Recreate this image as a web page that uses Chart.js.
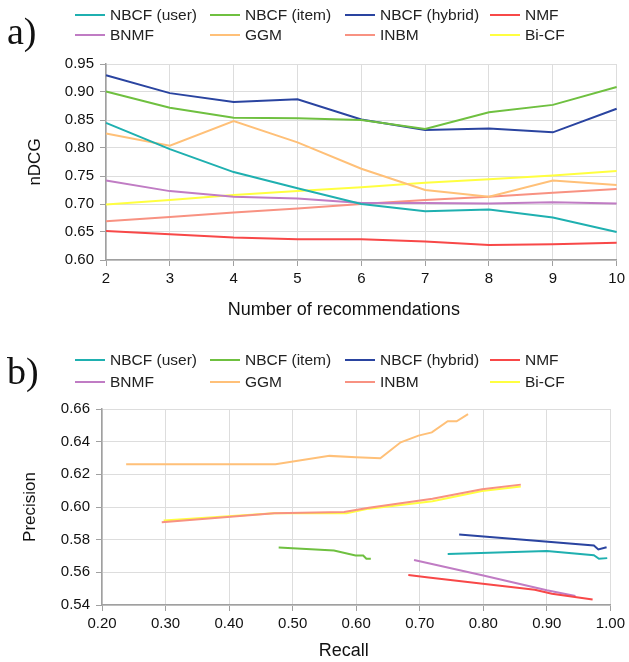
<!DOCTYPE html>
<html>
<head>
<meta charset="utf-8">
<script src="https://cdn.jsdelivr.net/npm/chart.js@4.4.1/dist/chart.umd.min.js"></script>
<style>
  body { margin: 0; background: #fff; font-family: "Liberation Sans", Arial, sans-serif; }
  #wrap { position: relative; width: 629px; height: 662px; overflow: hidden; }
  .box { position: absolute; left: 0; width: 629px; }
  .box canvas { position: absolute; left: 0; top: 0; }
  .tag { position: absolute; left: 7px; font-family: "Liberation Serif", "DejaVu Serif", serif; font-size: 38px; color: #111; }
  .leg { position: absolute; left: 0; top: 0; width: 629px; font-size: 15.5px; color: #222; }
  .item { position: absolute; white-space: nowrap; line-height: 18px; }
  .item i { display: inline-block; width: 30px; height: 2px; vertical-align: middle; margin-right: 5px; position: relative; top: -1px; }
</style>
</head>
<body>
<div id="wrap">
  <div class="box" style="top:0;height:330px">
    <canvas id="chartA" width="629" height="330"></canvas>
    <div class="tag" style="top:9px">a)</div>
    <div class="leg" id="legA"></div>
  </div>
  <div class="box" style="top:330px;height:332px">
    <canvas id="chartB" width="629" height="332"></canvas>
    <div class="tag" style="top:19px">b)</div>
    <div class="leg" id="legB"></div>
  </div>
</div>
<script>
// names and colours
const names = ["NBCF (user)", "NBCF (item)", "NBCF (hybrid)", "NMF", "BNMF", "GGM", "INBM", "Bi-CF"];
const colors = ["#1fb0b0", "#6fc040", "#2a44a0", "#f84848", "#c07cc4", "#ffc078", "#f89282", "#ffff40"];

// a) nDCG vs number of recommendations
const recs = [2, 3, 4, 5, 6, 7, 8, 9, 10];
const ndcgUser   = [0.845, 0.798, 0.757, 0.728, 0.700, 0.687, 0.690, 0.676, 0.650];
const ndcgItem   = [0.901, 0.872, 0.854, 0.853, 0.850, 0.834, 0.864, 0.877, 0.909];
const ndcgHybrid = [0.930, 0.898, 0.882, 0.887, 0.851, 0.832, 0.835, 0.828, 0.870];
const ndcgNMF    = [0.652, 0.646, 0.640, 0.637, 0.637, 0.633, 0.627, 0.628, 0.631];
const ndcgBNMF   = [0.742, 0.723, 0.713, 0.710, 0.702, 0.702, 0.701, 0.703, 0.701];
const ndcgGGM    = [0.826, 0.804, 0.848, 0.810, 0.763, 0.725, 0.713, 0.742, 0.734];
const ndcgINBM   = [0.669, 0.677, 0.685, 0.692, 0.700, 0.707, 0.713, 0.720, 0.727];
const ndcgBiCF   = [0.699, 0.707, 0.716, 0.723, 0.730, 0.738, 0.744, 0.751, 0.759];
const ndcgTicks = [0.60, 0.65, 0.70, 0.75, 0.80, 0.85, 0.90, 0.95];

// b) precision vs recall
const recUser   = [0.744, 0.900, 0.974, 0.982, 0.995];
const preUser   = [0.5713, 0.5730, 0.5705, 0.5683, 0.5687];
const recItem   = [0.478, 0.565, 0.599, 0.611, 0.616, 0.623];
const preItem   = [0.5752, 0.5733, 0.5703, 0.5703, 0.5683, 0.5683];
const recHybrid = [0.762, 0.974, 0.981, 0.994];
const preHybrid = [0.5831, 0.5764, 0.5740, 0.5754];
const recNMF    = [0.682, 0.714, 0.881, 0.908, 0.972];
const preNMF    = [0.5583, 0.5568, 0.5493, 0.5469, 0.5434];
const recBNMF   = [0.691, 0.800, 0.900, 0.945];
const preBNMF   = [0.5675, 0.5580, 0.5490, 0.5455];
const recGGM    = [0.238, 0.473, 0.558, 0.600, 0.638, 0.670, 0.698, 0.719, 0.744, 0.758, 0.776];
const preGGM    = [0.6262, 0.6262, 0.6313, 0.6305, 0.6298, 0.6396, 0.6437, 0.6457, 0.6525, 0.6525, 0.6568];
const recINBM   = [0.294, 0.471, 0.581, 0.620, 0.720, 0.798, 0.859];
const preINBM   = [0.5907, 0.5962, 0.5970, 0.5995, 0.6050, 0.6109, 0.6137];
const recBiCF   = [0.297, 0.471, 0.585, 0.620, 0.720, 0.798, 0.859];
const preBiCF   = [0.5917, 0.5962, 0.5962, 0.5990, 0.6035, 0.6098, 0.6125];
const recallTicks = [0.2, 0.3, 0.4, 0.5, 0.6, 0.7, 0.8, 0.9, 1.0];
const precTicks = [0.54, 0.56, 0.58, 0.60, 0.62, 0.64, 0.66];

const ndcgSeries = [ndcgUser, ndcgItem, ndcgHybrid, ndcgNMF, ndcgBNMF, ndcgGGM, ndcgINBM, ndcgBiCF];
const recallSeries = [recUser, recItem, recHybrid, recNMF, recBNMF, recGGM, recINBM, recBiCF];
const precSeries = [preUser, preItem, preHybrid, preNMF, preBNMF, preGGM, preINBM, preBiCF];

Chart.defaults.font.family = '"Liberation Sans", Arial, sans-serif';
Chart.defaults.color = "#111";

function makeLegend(id, top, gap) {
  const el = document.getElementById(id);
  const cols = [75, 210, 345, 490];
  names.forEach((n, i) => {
    const d = document.createElement("div");
    d.className = "item";
    d.style.left = cols[i % 4] + "px";
    d.style.top = (top + Math.floor(i / 4) * gap) + "px";
    d.innerHTML = `<i style="background:${colors[i]}"></i>${n}`;
    el.appendChild(d);
  });
}
makeLegend("legA", 6, 20);
makeLegend("legB", 21, 22);

const gridCol = "#dddddd";
const axisCol = "#a0a0a0";
const nb = "\u00a0";

function axisBase(title, size, fit) {
  return {
    grid: { color: gridCol, tickColor: axisCol, tickLength: 6 },
    border: { color: axisCol, width: 1.5 },
    title: { display: true, text: title, font: { size: size }, color: "#111", padding: { top: 4, bottom: 0 } },
    afterFit: fit,
  };
}

const dsA = ndcgSeries.map((s, i) => ({
  label: names[i],
  data: s,
  borderColor: colors[i],
  backgroundColor: colors[i],
  borderWidth: 2,
  pointRadius: 0,
  tension: 0,
}));

new Chart(document.getElementById("chartA"), {
  type: "line",
  data: { labels: recs, datasets: dsA },
  options: {
    responsive: false,
    animation: false,
    devicePixelRatio: 1,
    layout: { padding: { left: 21, right: 10, top: 64, bottom: 9 } },
    plugins: { legend: { display: false }, tooltip: { enabled: false } },
    scales: {
      x: Object.assign(axisBase("Number of recommendations" + nb.repeat(7), 18, (s) => { s.height = 61; }), {
        offset: false,
        grid: { color: gridCol, tickColor: axisCol, tickLength: 6, offset: false },
        ticks: { font: { size: 15 }, padding: 4, maxRotation: 0 },
      }),
      y: Object.assign(axisBase("nDCG", 17, (s) => { s.width = 85; }), {
        min: 0.6,
        max: 0.95,
        afterBuildTicks: (s) => { s.ticks = ndcgTicks.map((v) => ({ value: v })); },
        ticks: { font: { size: 15 }, padding: 6, callback: (v) => v.toFixed(2) },
      }),
    },
  },
});

const dsB = recallSeries.map((r, i) => ({
  label: names[i],
  data: r.map((x, j) => ({ x: x, y: precSeries[i][j] })),
  borderColor: colors[i],
  backgroundColor: colors[i],
  borderWidth: 2,
  pointRadius: 0,
  showLine: true,
  tension: 0,
}));

new Chart(document.getElementById("chartB"), {
  type: "scatter",
  data: { datasets: dsB },
  options: {
    responsive: false,
    animation: false,
    devicePixelRatio: 1,
    layout: { padding: { left: 16, right: 17, top: 79, bottom: 0 } },
    plugins: { legend: { display: false }, tooltip: { enabled: false } },
    scales: {
      x: Object.assign(axisBase("Recall" + nb.repeat(5), 18, (s) => { s.height = 57; }), {
        type: "linear",
        min: 0.2,
        max: 1.0,
        afterBuildTicks: (s) => { s.ticks = recallTicks.map((v) => ({ value: v })); },
        ticks: { font: { size: 15 }, padding: 4, maxRotation: 0, callback: (v) => v.toFixed(2) },
      }),
      y: Object.assign(axisBase("Precision", 17, (s) => { s.width = 86; }), {
        min: 0.54,
        max: 0.66,
        afterBuildTicks: (s) => { s.ticks = precTicks.map((v) => ({ value: v })); },
        ticks: { font: { size: 15 }, padding: 6, callback: (v) => v.toFixed(2) },
      }),
    },
  },
});
</script>
</body>
</html>
